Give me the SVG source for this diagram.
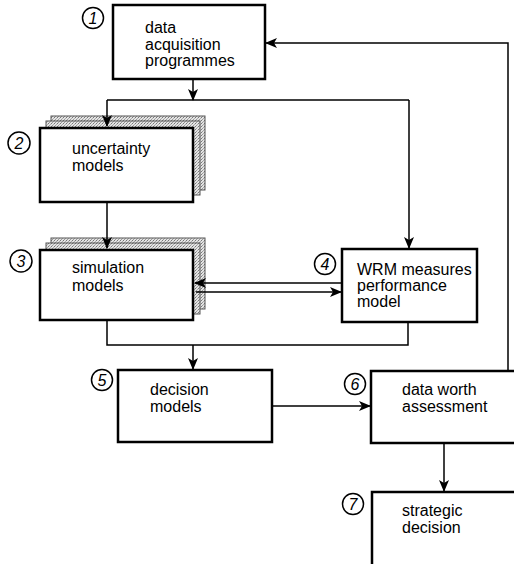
<svg xmlns="http://www.w3.org/2000/svg" width="514" height="564" viewBox="0 0 514 564">
  <defs>
    <pattern id="halftone" width="3" height="3" patternUnits="userSpaceOnUse">
      <rect width="3" height="3" fill="#e4e4e4"/>
      <rect x="0" y="0" width="1" height="1" fill="#777"/>
      <rect x="2" y="1" width="1" height="1" fill="#aaa"/>
      <rect x="1" y="2" width="1" height="1" fill="#999"/>
    </pattern>
    <marker id="arrow" viewBox="0 0 12 10" refX="11" refY="5" markerWidth="12" markerHeight="10" markerUnits="userSpaceOnUse" orient="auto">
      <path d="M0,0 L12,5 L0,10 L3,5 z" fill="#000"/>
    </marker>
  </defs>
  <style>
    .box { fill: #fff; stroke: #000; stroke-width: 2.5; }
    .stack { fill: url(#halftone); stroke: #555; stroke-width: 1; }
    .label { font-family: "Liberation Sans", Arial, Helvetica, sans-serif; font-size: 16px; fill: #000; }
    .num { font-family: "Liberation Sans", Arial, Helvetica, sans-serif; font-size: 16px; font-style: italic; fill: #000; text-anchor: middle; }
    .ring { fill: #fff; stroke: #000; stroke-width: 1.5; }
    .wire { fill: none; stroke: #000; stroke-width: 1.5; }
  </style>

  <rect width="514" height="564" fill="#fff"/>

  <!-- 1 data acquisition programmes -->
  <g id="node1">
    <rect class="box" x="113" y="5" width="152" height="74"/>
    <text class="label" x="145" y="33">data</text>
    <text class="label" x="145" y="50">acquisition</text>
    <text class="label" x="145" y="66">programmes</text>
    <circle class="ring" cx="93" cy="18" r="10.5"/>
    <text class="num" x="93" y="23.5">1</text>
  </g>

  <!-- 2 uncertainty models (stacked) -->
  <g id="node2">
    <rect class="stack" x="51" y="116" width="154" height="74"/>
    <rect class="stack" x="46" y="121" width="154" height="74"/>
    <rect class="box" x="40" y="128" width="153" height="74"/>
    <text class="label" x="72" y="154">uncertainty</text>
    <text class="label" x="72" y="171">models</text>
    <circle class="ring" cx="19" cy="143" r="11"/>
    <text class="num" x="19" y="149">2</text>
  </g>

  <!-- 3 simulation models (stacked) -->
  <g id="node3">
    <rect class="stack" x="51" y="238" width="154" height="71"/>
    <rect class="stack" x="46" y="243" width="154" height="71"/>
    <rect class="box" x="40" y="250" width="153" height="70"/>
    <text class="label" x="72" y="273">simulation</text>
    <text class="label" x="72" y="291">models</text>
    <circle class="ring" cx="21" cy="261" r="11"/>
    <text class="num" x="21" y="267">3</text>
  </g>

  <!-- 4 WRM measures performance model -->
  <g id="node4">
    <rect class="box" x="342" y="249" width="135" height="73"/>
    <text class="label" x="357" y="275">WRM measures</text>
    <text class="label" x="357" y="291">performance</text>
    <text class="label" x="357" y="307">model</text>
    <circle class="ring" cx="325" cy="264" r="10.5"/>
    <text class="num" x="325" y="269.5">4</text>
  </g>

  <!-- 5 decision models -->
  <g id="node5">
    <rect class="box" x="118" y="370" width="154" height="72"/>
    <text class="label" x="150" y="395">decision</text>
    <text class="label" x="150" y="412">models</text>
    <circle class="ring" cx="102" cy="380" r="10.5"/>
    <text class="num" x="102" y="385.5">5</text>
  </g>

  <!-- 6 data worth assessment -->
  <g id="node6">
    <rect class="box" x="371" y="371" width="150" height="72"/>
    <text class="label" x="402" y="395">data worth</text>
    <text class="label" x="402" y="412">assessment</text>
    <circle class="ring" cx="355" cy="384" r="10.5"/>
    <text class="num" x="355" y="389.5">6</text>
  </g>

  <!-- 7 strategic decision -->
  <g id="node7">
    <rect class="box" x="372" y="492" width="150" height="80"/>
    <text class="label" x="402" y="516">strategic</text>
    <text class="label" x="402" y="533">decision</text>
    <circle class="ring" cx="353" cy="504" r="10.5"/>
    <text class="num" x="353" y="509.5">7</text>
  </g>

  <!-- connectors (drawn last so arrowheads sit over the stacked boxes) -->
  <g id="connectors">
    <line class="wire" x1="193" y1="79" x2="193" y2="100" marker-end="url(#arrow)"/>
    <polyline class="wire" points="107,100 409,100"/>
    <line class="wire" x1="107" y1="100" x2="107" y2="126" marker-end="url(#arrow)"/>
    <line class="wire" x1="409" y1="100" x2="409" y2="248" marker-end="url(#arrow)"/>
    <line class="wire" x1="107" y1="203" x2="107" y2="248" marker-end="url(#arrow)"/>
    <line class="wire" x1="341" y1="283" x2="195" y2="283" stroke-width="2" marker-end="url(#arrow)"/>
    <line class="wire" x1="196" y1="292" x2="341" y2="292" stroke-width="2" marker-end="url(#arrow)"/>
    <polyline class="wire" points="107,321 107,345 408,345 408,323"/>
    <line class="wire" x1="193" y1="345" x2="193" y2="369" marker-end="url(#arrow)"/>
    <line class="wire" x1="273" y1="406" x2="370" y2="406" stroke-width="2" marker-end="url(#arrow)"/>
    <line class="wire" x1="444" y1="444" x2="444" y2="491" marker-end="url(#arrow)"/>
    <polyline class="wire" points="508,370 508,43 266,43" marker-end="url(#arrow)"/>
  </g>
</svg>
